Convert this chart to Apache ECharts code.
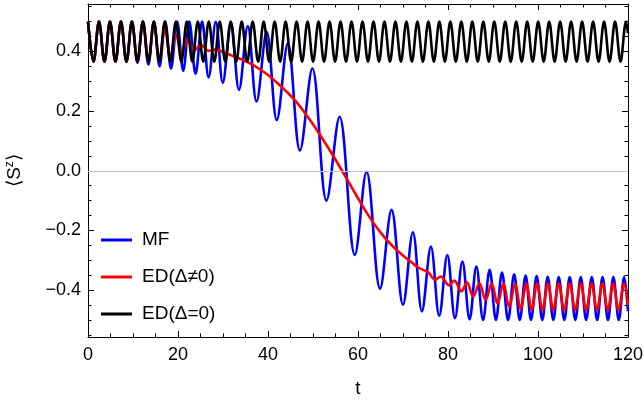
<!DOCTYPE html>
<html><head><meta charset="utf-8">
<script src="https://cdn.jsdelivr.net/npm/echarts@6/dist/echarts.min.js"></script>
<style>html,body{margin:0;padding:0;background:#fff}#c{width:644px;height:407px}</style>
</head><body><div id="c"></div>
<script>
const seriesNames = ['MF', 'ED(Δ≠0)', 'ED(Δ=0)'];
const xRange = [0, 120];
const yRange = [-0.557, 0.559];
const xMajorStep = 20;
const yTickValues = [-0.4, -0.2, 0, 0.2, 0.4];
const yMinorValues = [-0.55, -0.5, -0.45, -0.35, -0.3, -0.25, -0.15, -0.1, -0.05, 0.05, 0.1, 0.15, 0.25, 0.3, 0.35, 0.45, 0.5, 0.55];
const zeroLine = 0;

// MF: local extrema [t, <Sz>]
const mfData = [
[0,0.5],[1.22,0.366],[2.44,0.5],[3.66,0.366],[4.88,0.5],[6.10,0.366],[7.32,0.5],[8.54,0.365],
[9.76,0.5],[10.98,0.362],[12.20,0.5],[13.42,0.356],[14.64,0.5],[15.9,0.35],[17.15,0.5],[18.45,0.343],
[19.8,0.5],[21.15,0.335],[22.5,0.5],[23.9,0.325],[25.35,0.5],[26.8,0.313],[28.4,0.499],[29.95,0.295],
[31.75,0.495],[33.55,0.271],[35.5,0.485],[37.45,0.232],[39.7,0.466],[41.95,0.170],[44.4,0.427],[47.1,0.068],
[49.85,0.343],[53.0,-0.1],[55.9,0.181],[59.3,-0.282],[61.9,-0.003],[64.9,-0.395],[67.45,-0.131],[70.0,-0.449],
[72.2,-0.206],[74.2,-0.471],[76.2,-0.254],[78.05,-0.486],[79.85,-0.282],[81.55,-0.494],[83.2,-0.304],[84.8,-0.498],
[86.3,-0.321],[87.8,-0.5],[89.25,-0.332],[90.65,-0.5],[92.0,-0.341],[93.35,-0.5],[94.7,-0.347],[95.95,-0.5],
[97.25,-0.351],[98.45,-0.5],[99.7,-0.353],[100.95,-0.5],[102.15,-0.355],[103.4,-0.5],[104.6,-0.356],[105.85,-0.5],
[107.05,-0.356],[108.3,-0.5],[109.5,-0.356],[110.7,-0.5],[111.95,-0.356],[113.15,-0.5],[114.35,-0.356],[115.55,-0.5],
[116.75,-0.356],[117.95,-0.5],[119.15,-0.356],[120,-0.47]
];

// ED(Δ≠0)
const edData = [
[0,0.5],[1.22,0.366],[2.44,0.5],[3.66,0.366],[4.88,0.5],[6.10,0.366],[7.32,0.5],[8.54,0.366],
[9.76,0.5],[10.98,0.366],[12.20,0.5],[13.42,0.367],[14.64,0.497],[15.86,0.371],[17.08,0.476],[18.3,0.383],
[19.55,0.455],[20.85,0.393],[22.15,0.438],[23.6,0.403],[25.1,0.422],[26.8,0.402],[28.4,0.407],[30.4,0.395],
[32,0.386],[34,0.374],[36,0.36],[38,0.342],[40,0.321],[42,0.295],[44,0.267],[46,0.236],
[48,0.198],[50,0.156],[52,0.11],[54,0.062],[56,0.012],[58,-0.04],[60,-0.092],[62,-0.142],
[64,-0.187],[66,-0.225],[68,-0.257],[70,-0.284],[72,-0.308],[73.5,-0.325],[74.6,-0.333],[75.6,-0.34],
[77.2,-0.365],[78.4,-0.354],[80.2,-0.384],[81.4,-0.368],[83.0,-0.404],[84.2,-0.374],[85.6,-0.421],[87.0,-0.377],
[88.35,-0.433],[89.7,-0.378],[91.0,-0.445],[92.3,-0.379],[93.6,-0.456],[94.9,-0.38],[96.15,-0.462],[97.4,-0.379],
[98.6,-0.465],[99.8,-0.378],[101.0,-0.466],[102.2,-0.378],[103.4,-0.466],[104.6,-0.378],[105.8,-0.466],[107.05,-0.378],
[108.25,-0.466],[109.5,-0.378],[110.7,-0.466],[111.9,-0.378],[113.1,-0.466],[114.3,-0.378],[115.5,-0.466],[116.7,-0.378],
[117.9,-0.466],[119.1,-0.378],[120,-0.45]
];

// ED(Δ=0)
const ed0Data = [
[0,0.5],[1.22,0.366],[2.44,0.5],[3.66,0.366],[4.88,0.5],[6.10,0.366],[7.32,0.5],[8.54,0.366],
[9.76,0.5],[10.98,0.366],[12.20,0.5],[13.42,0.366],[14.64,0.5],[15.86,0.366],[17.08,0.5],[18.30,0.366],
[19.52,0.5],[20.74,0.366],[21.96,0.5],[23.18,0.366],[24.40,0.5],[25.62,0.366],[26.84,0.5],[28.06,0.366],
[29.28,0.5],[30.50,0.366],[31.72,0.5],[32.94,0.366],[34.16,0.5],[35.38,0.366],[36.60,0.5],[37.82,0.366],
[39.04,0.5],[40.26,0.366],[41.48,0.5],[42.70,0.366],[43.92,0.5],[45.14,0.366],[46.36,0.5],[47.58,0.366],
[48.80,0.5],[50.02,0.366],[51.24,0.5],[52.46,0.366],[53.68,0.5],[54.90,0.366],[56.12,0.5],[57.34,0.366],
[58.56,0.5],[59.78,0.366],[61.00,0.5],[62.22,0.366],[63.44,0.5],[64.66,0.366],[65.88,0.5],[67.10,0.366],
[68.32,0.5],[69.54,0.366],[70.76,0.5],[71.98,0.366],[73.20,0.5],[74.42,0.366],[75.64,0.5],[76.86,0.366],
[78.08,0.5],[79.30,0.366],[80.52,0.5],[81.74,0.366],[82.96,0.5],[84.18,0.366],[85.40,0.5],[86.62,0.366],
[87.84,0.5],[89.06,0.366],[90.28,0.5],[91.50,0.366],[92.72,0.5],[93.94,0.366],[95.16,0.5],[96.38,0.366],
[97.60,0.5],[98.82,0.366],[100.04,0.5],[101.26,0.366],[102.48,0.5],[103.70,0.366],[104.92,0.5],[106.14,0.366],
[107.36,0.5],[108.58,0.366],[109.80,0.5],[111.02,0.366],[112.24,0.5],[113.46,0.366],[114.68,0.5],[115.90,0.366],
[117.12,0.5],[118.34,0.366],[119.56,0.5],[120,0.461]
];

const FONT = 'Liberation Sans, Arial, sans-serif';
const chart = echarts.init(document.getElementById('c'), null, {renderer: 'canvas'});
const frameLine = {show: true, onZero: false, lineStyle: {color: '#000', width: 1}};
const fmtY = v => (v < 0 ? '\u2212' : '') + Math.abs(v).toFixed(1);

function xAx(pos, labels) {
  return {
    type: 'value', position: pos, min: xRange[0], max: xRange[1], interval: xMajorStep,
    axisLine: frameLine,
    axisTick: {show: true, inside: true, length: 6, lineStyle: {color: '#000', width: 1}},
    minorTick: {show: true, splitNumber: 4, length: 3.5, lineStyle: {color: '#000', width: 1}},
    axisLabel: {show: labels, fontSize: 18, color: '#000', fontFamily: FONT, margin: 9},
    splitLine: {show: false}, minorSplitLine: {show: false},
    name: labels ? 't' : '', nameLocation: 'middle', nameGap: 42,
    nameTextStyle: {fontSize: 19, color: '#000', fontFamily: FONT}
  };
}
function yAx(pos, values, len, labels, line) {
  const ax = {
    type: 'value', position: pos, min: yRange[0], max: yRange[1],
    axisLine: line ? frameLine : {show: false, onZero: false},
    axisTick: {show: true, inside: true, length: len, customValues: values, lineStyle: {color: '#000', width: 1}},
    axisLabel: {show: labels, customValues: values, formatter: fmtY, fontSize: 18, color: '#000', fontFamily: FONT, margin: 7},
    splitLine: {show: false}
  };
  if (labels) {
    ax.name = '{a|\u27E8S}{s|z}{a|\u27E9}';
    ax.nameLocation = 'middle';
    ax.nameGap = 62;
    ax.nameRotate = 90;
    ax.nameTextStyle = {color: '#000', fontFamily: FONT, rich: {
      a: {fontSize: 19, color: '#000', fontFamily: FONT, lineHeight: 22},
      s: {fontSize: 12, color: '#000', fontFamily: FONT, verticalAlign: 'top', lineHeight: 14}
    }};
  }
  return ax;
}

const lineSeries = (name, data, color, z) => ({
  name, type: 'line', data, xAxisIndex: 0, yAxisIndex: 0, smooth: 0.36,
  showSymbol: false, symbol: 'none', z, clip: true,
  lineStyle: {color, width: 2.6}, itemStyle: {color}
});

chart.setOption({
  animation: false,
  backgroundColor: '#fff',
  grid: {left: 88, right: 16, top: 4, bottom: 70, containLabel: false, outerBoundsMode: 'none'},
  xAxis: [xAx('bottom', true), xAx('top', false)],
  yAxis: [yAx('left', yTickValues, 6, true, true), yAx('right', yTickValues, 6, false, true),
          yAx('left', yMinorValues, 3.5, false, false), yAx('right', yMinorValues, 3.5, false, false)],
  legend: {
    data: seriesNames, orient: 'vertical', left: 96, top: 224, padding: 5,
    icon: 'rect', itemWidth: 31, itemHeight: 3, itemGap: 15,
    textStyle: {fontSize: 19, color: '#000', fontFamily: FONT, lineHeight: 22, padding: [0, 0, 0, 5]}
  },
  series: [
    {name: 'zero', type: 'line', data: [], z: 1, silent: true,
     markLine: {silent: true, symbol: 'none', label: {show: false},
       lineStyle: {color: '#c4c4c4', width: 1.2, type: 'solid'}, data: [{yAxis: zeroLine}]}},
    lineSeries(seriesNames[0], mfData, '#0000ff', 2),
    lineSeries(seriesNames[1], edData, '#ff0000', 3),
    lineSeries(seriesNames[2], ed0Data, '#000000', 4)
  ]
});
</script></body></html>
